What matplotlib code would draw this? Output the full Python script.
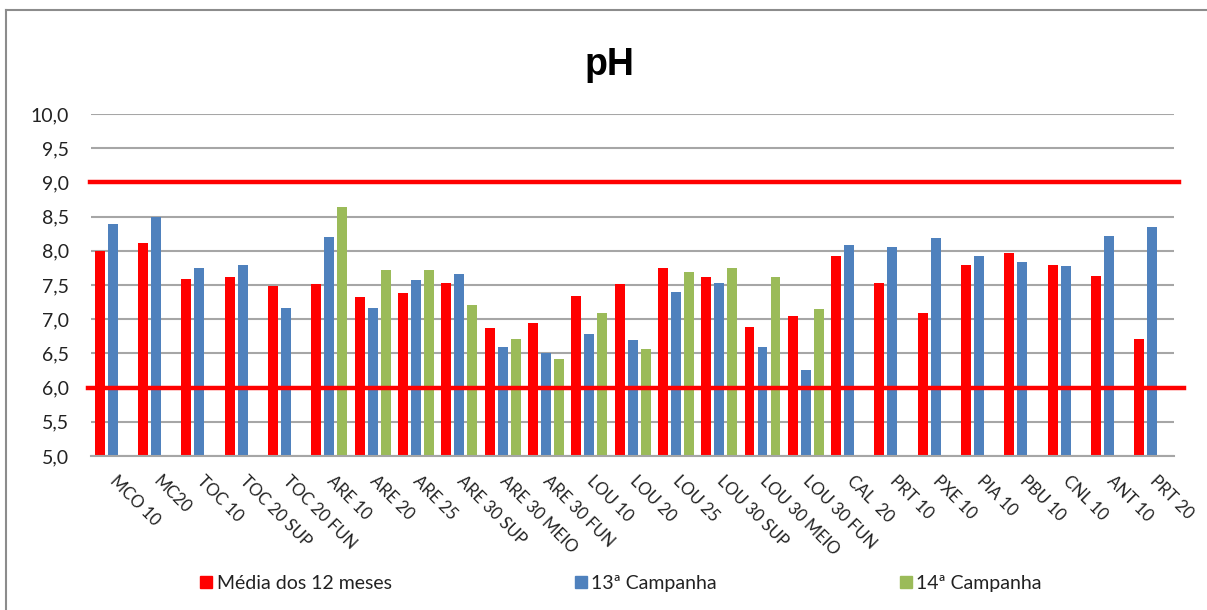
import numpy as np
import matplotlib
matplotlib.use('Agg')
import matplotlib.pyplot as plt
from matplotlib.lines import Line2D
from matplotlib.ticker import FuncFormatter

plt.rcParams['font.family'] = ['Lato', 'DejaVu Sans']

# --- data ---
stations = ['MCO 10', 'MC20', 'TOC 10', 'TOC 20 SUP', 'TOC 20 FUN', 'ARE 10', 'ARE 20',
            'ARE 25', 'ARE 30 SUP', 'ARE 30 MEIO', 'ARE 30 FUN', 'LOU 10', 'LOU 20',
            'LOU 25', 'LOU 30 SUP', 'LOU 30 MEIO', 'LOU 30 FUN', 'CAL  20', 'PRT 10',
            'PXE 10', 'PIA 10', 'PBU 10', 'CNL 10', 'ANT 10', 'PRT 20']
media_12m = [8.00, 8.11, 7.58, 7.61, 7.49, 7.51, 7.32, 7.38, 7.53, 6.87, 6.95, 7.34, 7.51,
             7.75, 7.61, 6.88, 7.04, 7.92, 7.53, 7.09, 7.79, 7.96, 7.79, 7.63, 6.71]
camp13 = [8.39, 8.50, 7.75, 7.79, 7.17, 8.20, 7.17, 7.57, 7.66, 6.59, 6.50, 6.78, 6.70,
          7.39, 7.53, 6.59, 6.25, 8.08, 8.06, 8.18, 7.92, 7.84, 7.77, 8.22, 8.35]
nan = np.nan
camp14 = [nan, nan, nan, nan, nan, 8.64, 7.72, 7.72, 7.20, 6.71, 6.42, 7.09, 6.56,
          7.69, 7.75, 7.61, 7.15, nan, nan, nan, nan, nan, nan, nan, nan]
limit_max = 9.0
limit_min = 6.0
series_names = ['Média dos 12 meses', '13ª Campanha', '14ª Campanha']

C_RED = '#FF0000'
C_BLUE = '#4F81BD'
C_GREEN = '#9BBB59'
C_GRID = '#A6A6A6'

fig = plt.figure(figsize=(12.07, 6.10), dpi=100)
ax = fig.add_axes([0.0754, 0.2525, 0.8973, 0.5607])

x = np.arange(len(stations))
w = 0.23
off = 0.30
ax.bar(x - off, media_12m, w, color=C_RED, zorder=2, label=series_names[0])
ax.bar(x, camp13, w, color=C_BLUE, zorder=2, label=series_names[1])
ax.bar(x + off, camp14, w, color=C_GREEN, zorder=2, label=series_names[2])

# limit lines (drawn over the bars, slightly wider than the plot area)
ax.plot([-0.52, 24.62], [limit_max, limit_max], color=C_RED, lw=3.2, zorder=3, clip_on=False)
ax.plot([-0.57, 24.74], [limit_min, limit_min], color=C_RED, lw=3.2, zorder=3, clip_on=False)

ax.set_xlim(-0.5, len(stations) - 0.5)
ax.set_ylim(5.0, 10.0)
ax.set_yticks(np.arange(5.0, 10.01, 0.5))
ax.yaxis.set_major_formatter(FuncFormatter(lambda v, p: f'{v:.1f}'.replace('.', ',')))
ax.yaxis.grid(True, color=C_GRID, lw=1.5, zorder=0)
ax.set_axisbelow(True)
for s in ['top', 'right', 'left']:
    ax.spines[s].set_visible(False)
ax.spines['bottom'].set_color(C_GRID)
ax.spines['bottom'].set_linewidth(1.5)
ax.tick_params(axis='both', length=0)
ax.tick_params(axis='y', labelsize=14, labelcolor='#222222', pad=16)

ax.set_xticks(x)
ax.set_xticklabels(stations, rotation=-45, ha='left', va='center',
                   rotation_mode='anchor', fontsize=12, color='#222222')
ax.tick_params(axis='x', pad=16)

fig.text(0.505, 0.893, 'pH', ha='center', va='center', fontsize=27, fontweight='bold',
         family=['Liberation Sans Narrow', 'Liberation Sans', 'DejaVu Sans'])

handles = [Line2D([], [], marker='s', ls='', color=c, markersize=8.5)
           for c in (C_RED, C_BLUE, C_GREEN)]
fig.legend(handles, series_names, loc='center left', bbox_to_anchor=(0.152, 0.044),
           ncol=3, frameon=False, fontsize=14, handlelength=0.55, handletextpad=0.25,
           columnspacing=9.45, labelcolor='#222222')

# outer chart border (top and left)
fig.add_artist(Line2D([0.005, 0.005], [0.0, 0.983], color='#8C8C8C', lw=1.5))
fig.add_artist(Line2D([0.005, 1.0], [0.983, 0.983], color='#8C8C8C', lw=1.5))

fig.savefig('out.png', dpi=100)
